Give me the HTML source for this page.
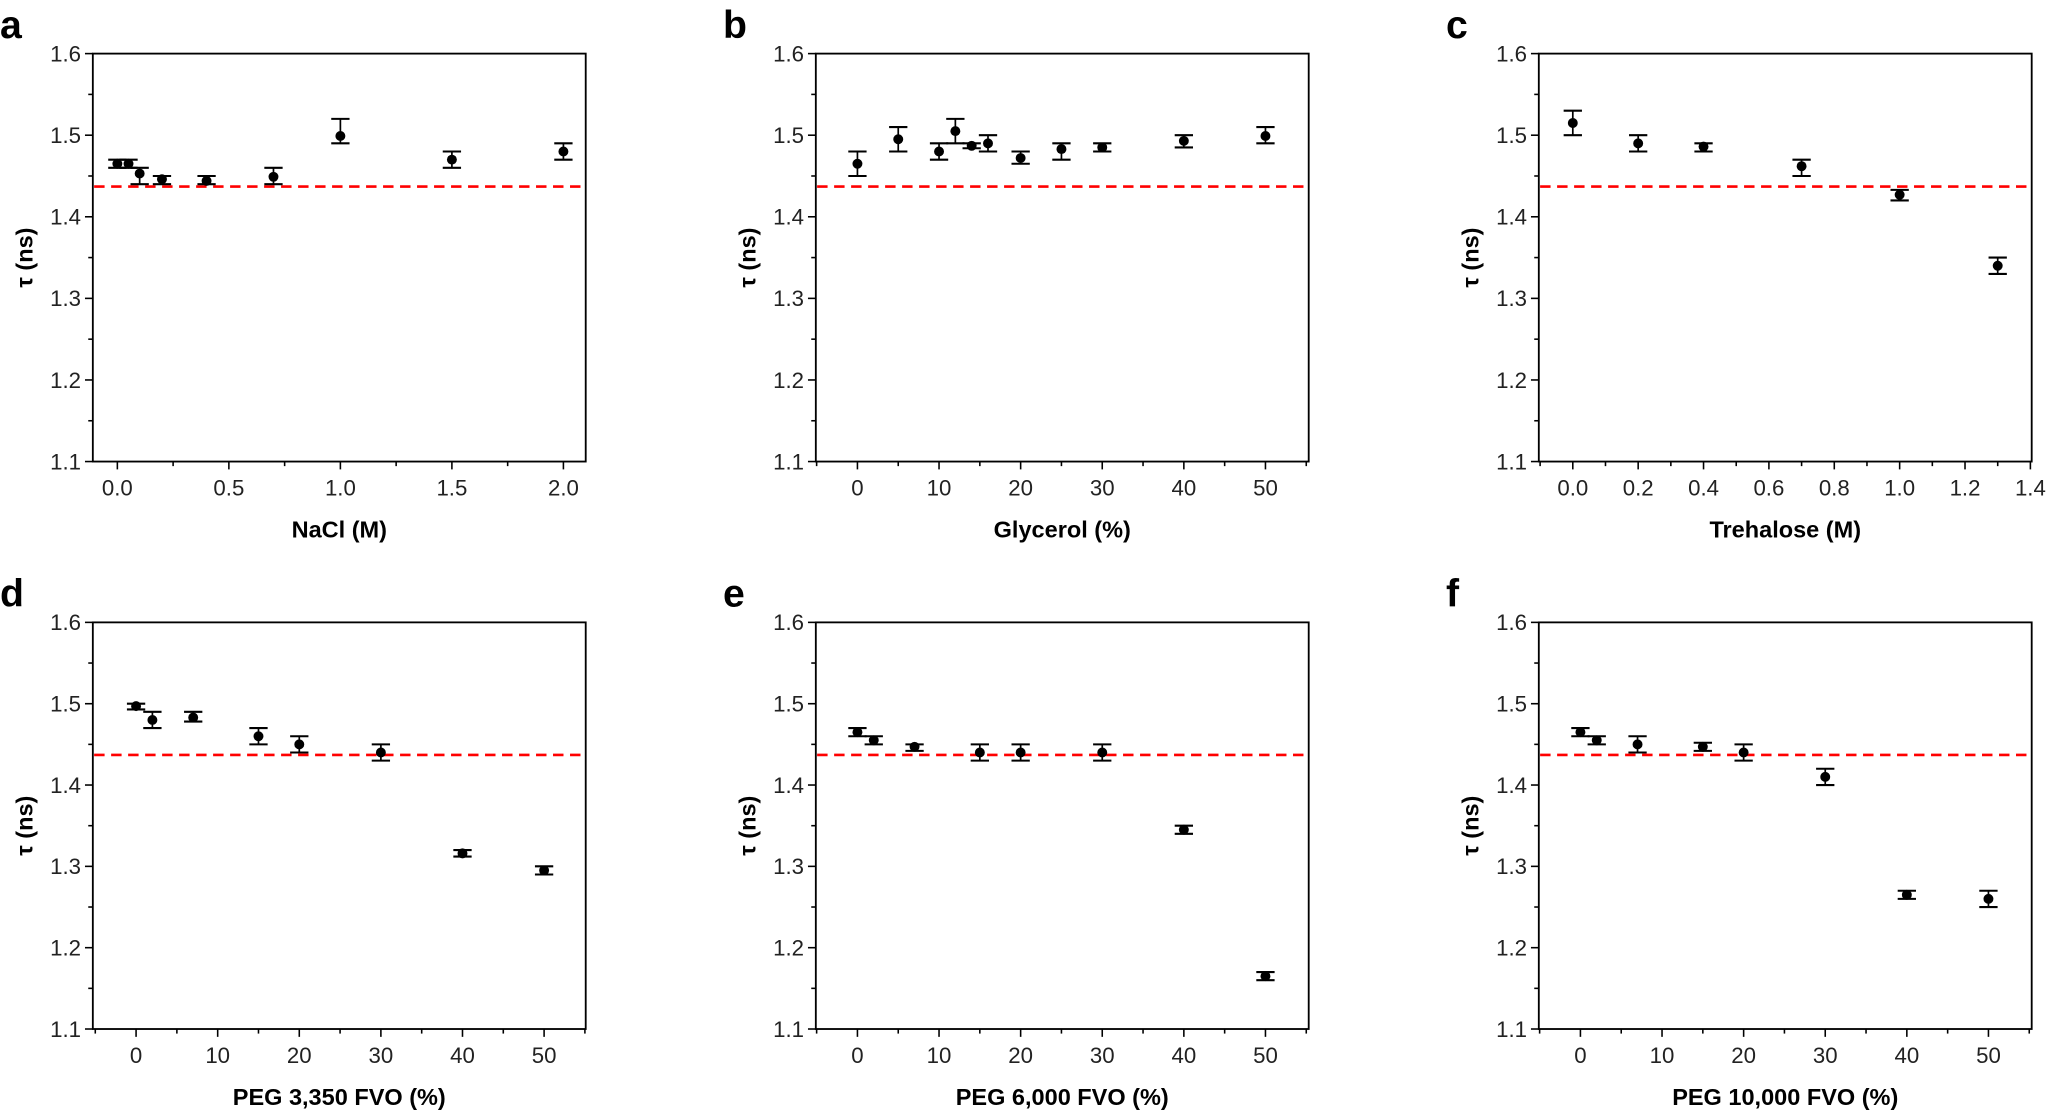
<!DOCTYPE html>
<html><head><meta charset="utf-8"><style>html,body{margin:0;padding:0;background:#fff}svg{display:block}</style></head>
<body>
<svg id="s" xmlns="http://www.w3.org/2000/svg" width="2050" height="1114" viewBox="0 0 1568 852" preserveAspectRatio="none" font-family="Liberation Sans, Arial, sans-serif"></svg>
<script>
const panels=[
{L:'a',x0:71,x1:448,top:41,bot:353,xmin:-0.11,xmax:2.1,ticks:[0,0.5,1,1.5,2],fmt:v=>v.toFixed(1),minor:0.25,title:'NaCl (M)',
 d:[[0,1.465,1.47,1.46],[0.05,1.465,1.47,1.46],[0.1,1.453,1.46,1.44],[0.2,1.446,1.45,1.44],[0.4,1.444,1.45,1.44],[0.7,1.449,1.46,1.44],[1,1.499,1.52,1.49],[1.5,1.47,1.48,1.46],[2,1.48,1.49,1.47]]},
{L:'b',x0:624,x1:1001,top:41,bot:353,xmin:-5.1,xmax:55.3,ticks:[0,10,20,30,40,50],fmt:v=>v,minor:5,title:'Glycerol (%)',
 d:[[0,1.465,1.48,1.45],[5,1.495,1.51,1.48],[10,1.48,1.49,1.47],[12,1.505,1.52,1.49],[14,1.487,1.49,1.484],[16,1.49,1.5,1.48],[20,1.472,1.48,1.465],[25,1.483,1.49,1.47],[30,1.485,1.49,1.48],[40,1.493,1.5,1.485],[50,1.499,1.51,1.49]]},
{L:'c',x0:1177,x1:1554,top:41,bot:353,xmin:-0.104,xmax:1.404,ticks:[0,0.2,0.4,0.6,0.8,1,1.2,1.4],fmt:v=>v.toFixed(1),minor:0.1,title:'Trehalose (M)',
 d:[[0,1.515,1.53,1.5],[0.2,1.49,1.5,1.48],[0.4,1.486,1.49,1.48],[0.7,1.462,1.47,1.45],[1,1.427,1.433,1.42],[1.3,1.34,1.35,1.33]]},
{L:'d',x0:71,x1:448,top:476,bot:787,xmin:-5.3,xmax:55.1,ticks:[0,10,20,30,40,50],fmt:v=>v,minor:5,title:'PEG 3,350 FVO (%)',
 d:[[0,1.497,1.5,1.493],[2,1.48,1.49,1.47],[7,1.483,1.49,1.478],[15,1.46,1.47,1.45],[20,1.45,1.46,1.44],[30,1.44,1.45,1.43],[40,1.316,1.32,1.312],[50,1.295,1.3,1.29]]},
{L:'e',x0:624,x1:1001,top:476,bot:787,xmin:-5.1,xmax:55.3,ticks:[0,10,20,30,40,50],fmt:v=>v,minor:5,title:'PEG 6,000 FVO (%)',
 d:[[0,1.465,1.47,1.46],[2,1.455,1.46,1.45],[7,1.447,1.45,1.442],[15,1.44,1.45,1.43],[20,1.44,1.45,1.43],[30,1.44,1.45,1.43],[40,1.345,1.35,1.34],[50,1.165,1.17,1.16]]},
{L:'f',x0:1177,x1:1554,top:476,bot:787,xmin:-5.1,xmax:55.3,ticks:[0,10,20,30,40,50],fmt:v=>v,minor:5,title:'PEG 10,000 FVO (%)',
 d:[[0,1.465,1.47,1.46],[2,1.455,1.46,1.45],[7,1.45,1.46,1.44],[15,1.447,1.452,1.442],[20,1.44,1.45,1.43],[30,1.41,1.42,1.4],[40,1.265,1.27,1.26],[50,1.26,1.27,1.25]]}
];
let h='';
for(const p of panels){
 const X=v=>p.x0+(v-p.xmin)/(p.xmax-p.xmin)*(p.x1-p.x0);
 const Y=v=>p.bot-(v-1.1)/0.5*(p.bot-p.top);
 h+=`<text x="${p.x0-71}" y="${p.top-12}" font-size="30" font-weight="bold">${p.L}</text>`;
 h+=`<rect x="${p.x0}" y="${p.top}" width="${p.x1-p.x0}" height="${p.bot-p.top}" fill="none" stroke="#000" stroke-width="1.4"/>`;
 for(let i=0;i<=10;i++){const v=1.1+i*0.05,y=Y(v),maj=i%2==0;
  h+=`<line x1="${p.x0}" x2="${p.x0-(maj?6:3.5)}" y1="${y}" y2="${y}" stroke="#000" stroke-width="1.2"/>`;
  if(maj)h+=`<text x="${p.x0-9}" y="${y+6}" font-size="17" text-anchor="end" fill="#222">${v.toFixed(1)}</text>`;}
 const tmin=p.ticks[0],tmax=p.ticks[p.ticks.length-1];
 for(let v=tmin-p.minor;v<=tmax+p.minor+1e-9;v+=p.minor){if(v<p.xmin||v>p.xmax)continue;
  const isMaj=p.ticks.some(t=>Math.abs(t-v)<1e-6);const x=X(v);
  h+=`<line x1="${x}" x2="${x}" y1="${p.bot}" y2="${p.bot+(isMaj?6:3.5)}" stroke="#000" stroke-width="1.2"/>`;
  if(isMaj)h+=`<text x="${x}" y="${p.bot+26}" font-size="17" text-anchor="middle" fill="#222">${p.fmt(Math.round(v*100)/100)}</text>`;}
 h+=`<text x="${(p.x0+p.x1)/2}" y="${p.bot+58}" font-size="18" font-weight="bold" text-anchor="middle">${p.title}</text>`;
 const cy=(p.top+p.bot)/2;
 h+=`<text transform="translate(${p.x0-46},${cy}) rotate(-90)" font-size="18" font-weight="bold" text-anchor="middle">τ (ns)</text>`;
 const ry=Y(1.437);
 h+=`<line x1="${p.x0+1}" x2="${p.x1-1}" y1="${ry}" y2="${ry}" stroke="#f00" stroke-width="2" stroke-dasharray="8,5"/>`;
 for(const [x,y,hi,lo] of p.d){const xx=X(x);
  h+=`<line x1="${xx}" x2="${xx}" y1="${Y(hi)}" y2="${Y(lo)}" stroke="#000" stroke-width="1.3"/>`;
  h+=`<line x1="${xx-7}" x2="${xx+7}" y1="${Y(hi)}" y2="${Y(hi)}" stroke="#000" stroke-width="1.6"/>`;
  h+=`<line x1="${xx-7}" x2="${xx+7}" y1="${Y(lo)}" y2="${Y(lo)}" stroke="#000" stroke-width="1.6"/>`;
  h+=`<circle cx="${xx}" cy="${Y(y)}" r="3.8" fill="#000"/>`;}
}
document.getElementById('s').innerHTML=h;
</script>
</body></html>
